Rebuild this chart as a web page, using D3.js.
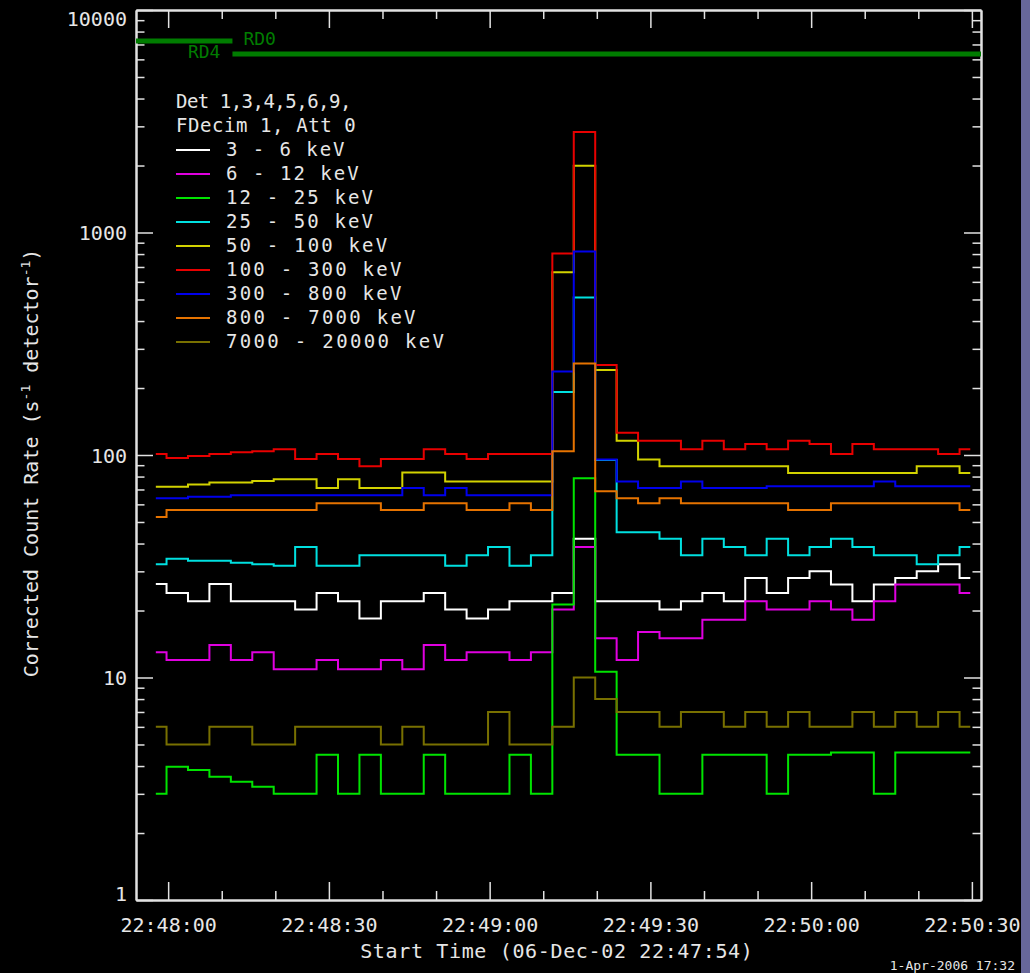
<!DOCTYPE html>
<html>
<head>
<meta charset="utf-8">
<script src="https://cdn.jsdelivr.net/npm/d3@7"></script>
<style>
  html, body { margin: 0; padding: 0; background: #000; overflow: hidden; }
  svg { display: block; }
  text { font-family: "DejaVu Sans Mono", "Liberation Mono", monospace; fill: #e6e6e6; }
</style>
</head>
<body>
<svg id="chart" width="1030" height="973"></svg>
<script>
// Corrected count rates, 4 s accumulations, detectors 1,3,4,5,6,9 (06-Dec-2002)
const startTime = Date.UTC(2002, 11, 6, 22, 47, 54);
const plotSeconds = 157.7;        // span of the time axis
const firstBinOffset = 3.7;       // first bin centre, seconds after start
const binSeconds = 4;

const bandLabels = [
  "3 - 6 keV", "6 - 12 keV", "12 - 25 keV", "25 - 50 keV", "50 - 100 keV",
  "100 - 300 keV", "300 - 800 keV", "800 - 7000 keV", "7000 - 20000 keV"
];
const bandColors = [
  "#ffffff", "#e000e0", "#00e400", "#00e0e0", "#d2d200",
  "#e80000", "#0000ec", "#e67300", "#787000"
];

const rate3to6 = [26.3,24,22,26.3,22,22,22,20.2,24,22,18.4,22,22,24,20.2,18.4,20.2,22,22,24,42,22,22,22,20.2,22,24,22,28,24,28,30,26.2,22,26.2,28,30,32.3,28];
const rate6to12 = [13,12,12,14,12,13,10.9,10.9,12,10.9,10.9,12,10.9,14,12,13,13,12,13,20.2,38.6,15,12,16,15,15,18.2,18.2,22,20.2,20.2,22,20.2,18.2,22,26.2,26.2,26.2,24];
const rate12to25 = [3.0,3.97,3.84,3.58,3.4,3.23,3.0,3.0,4.5,3.0,4.5,3.0,3.0,4.5,3.0,3.0,3.0,4.5,3.0,21.3,78.6,10.6,4.5,4.5,3.0,3.0,4.5,4.5,4.5,3.0,4.5,4.5,4.6,4.6,3.0,4.6,4.6,4.6,4.6];
const rate25to50 = [32.3,34.2,33.5,33.5,32.8,32.3,31.8,38.6,31.8,31.8,35.4,35.4,35.4,35.4,31.8,35.4,38.6,31.8,35.4,192,510,95,45,45,42,35.4,42,38.6,35.4,42,35.4,38.6,42,38.6,35.4,35.4,32.3,35.4,38.6];
const rate50to100 = [72,72,73.7,75.2,75.2,76.4,77.8,77.8,71,77.8,71,71,83.4,83.4,76,76,76,76,76,663,1996,241,116,95.4,89,89,89,89,89,89,83,83,83,83,83,83,89,89,83];
const rate100to300 = [101,97,99,101,103,104,106,96,101,96,89,96,96,106,101,96,101,101,101,804,2832,254,126,116,116,106,116,106,112,106,116,112,101,112,106,106,106,101,106];
const rate300to800 = [64,64,65,65,66,66,66,66,66,66,66,66,71,66,71,66,66,66,66,237,821,95.4,76,71,71,76,71,71,71,72.4,72.4,72.4,72.4,72.4,76,72.4,72.4,72.4,72.4];
const rate800to7000 = [52.6,56.6,56.6,56.6,56.6,56.6,56.6,56.6,60.7,60.7,60.7,56.6,56.6,60.7,60.7,56.6,56.6,60.7,56.6,104,258,68.7,64,60.7,64,60.7,60.7,60.7,60.7,60.7,56.6,56.6,60.7,60.7,60.7,60.7,60.7,60.7,56.6];
const rate7000to20000 = [6,5,5,6,6,5,5,6,6,6,6,5,6,5,5,5,7,5,5,6,10,8,7,7,6,7,7,6,7,6,7,6,6,7,6,7,6,7,6];

const bandRates = [rate3to6, rate6to12, rate12to25, rate25to50, rate50to100,
                   rate100to300, rate300to800, rate800to7000, rate7000to20000];

// Rear decimation states (seconds after start time)
const rdStates = ["RD0", "RD4"];
const rdStart = [0, 18];
const rdEnd = [18, plotSeconds];

const yMajorTicks = [1, 10, 100, 1000, 10000];
const legendHeader = ["Det 1,3,4,5,6,9,", "FDecim 1, Att 0"];
const xTitle = "Start Time (06-Dec-02 22:47:54)";
const stamp = "1-Apr-2006 17:32";

// ---------------------------------------------------------------------------
const W = 1030, H = 973;
const plot = { left: 136, right: 981, top: 10, bottom: 900 };
const axisColor = "#e2e2e2";

// Advance widths of the vector stroke font (units; caps are 21 units tall),
// used to space the label text like the plotting package does.
const strokeAdvance = {
  "0":20,"1":20,"2":20,"3":20,"4":20,"5":20,"6":20,"7":20,"8":20,"9":20,
  " ":16,"-":26,",":10,":":10,"(":14,")":14,
  "A":18,"D":21,"F":18,"S":20,"T":16,"R":21,
  "a":19,"c":18,"e":18,"i":8,"k":17,"m":30,"r":13,"t":12,"V":18
};
const strokeScale = 0.71;
const strokeWidth = s => [...s].reduce((w, c) => w + (strokeAdvance[c] || 18), 0) * strokeScale;

const svg = d3.select("#chart");
svg.append("rect").attr("width", W).attr("height", H).attr("fill", "#000");
// window frame strip along the right edge
svg.append("rect").attr("x", 1021).attr("y", 0).attr("width", 9).attr("height", H).attr("fill", "#67679a");

const sec = s => new Date(startTime + s * 1000);
const x = d3.scaleUtc().domain([sec(0), sec(plotSeconds)]).range([plot.left, plot.right]);
const y = d3.scaleLog().domain([1, 10000]).range([plot.bottom, plot.top]);

const majorX = d3.utcSecond.every(30).range(sec(0), sec(plotSeconds));
const minorX = d3.utcSecond.every(10).range(sec(0), sec(plotSeconds))
  .filter(d => d.getUTCSeconds() % 30 !== 0);
const minorY = [];
for (let dec = 1; dec < 10000; dec *= 10) for (let m = 2; m <= 9; m++) minorY.push(dec * m);

const fmt = d3.utcFormat("%H:%M:%S");

function styleAxis(g) {
  g.selectAll("path.domain").attr("stroke", axisColor).attr("stroke-width", 2);
  g.selectAll(".tick line").attr("stroke", axisColor).attr("stroke-width", 1.5);
  g.selectAll(".tick text").attr("fill", "#e6e6e6")
    .style("font-family", '"DejaVu Sans Mono", monospace').style("font-size", "20px");
}

// bottom axis
const gb = svg.append("g").attr("transform", `translate(0,${plot.bottom})`)
  .call(d3.axisBottom(x).tickValues(majorX).tickSize(-18).tickSizeOuter(0).tickFormat(fmt));
gb.selectAll(".tick text").attr("y", 31.5).attr("dy", 0);
styleAxis(gb);
const gbm = svg.append("g").attr("transform", `translate(0,${plot.bottom})`)
  .call(d3.axisBottom(x).tickValues(minorX).tickSize(-9).tickSizeOuter(0).tickFormat(""));
styleAxis(gbm);

// top axis
const gt = svg.append("g").attr("transform", `translate(0,${plot.top})`)
  .call(d3.axisTop(x).tickValues(majorX).tickSize(-18).tickSizeOuter(0).tickFormat(""));
styleAxis(gt);
const gtm = svg.append("g").attr("transform", `translate(0,${plot.top})`)
  .call(d3.axisTop(x).tickValues(minorX).tickSize(-9).tickSizeOuter(0).tickFormat(""));
styleAxis(gtm);

// left axis
const gl = svg.append("g").attr("transform", `translate(${plot.left},0)`)
  .call(d3.axisLeft(y).tickValues(yMajorTicks).tickSize(-17).tickSizeOuter(0).tickPadding(9)
    .tickFormat(d3.format("d")));
gl.selectAll(".tick text")
  .attr("dy", 0)
  .attr("y", d => {
    const base = Math.min(Math.max(y(d) + 7, plot.top + 15), plot.bottom);
    return base - y(d);
  });
styleAxis(gl);
const glm = svg.append("g").attr("transform", `translate(${plot.left},0)`)
  .call(d3.axisLeft(y).tickValues(minorY).tickSize(-8.5).tickSizeOuter(0).tickFormat(""));
styleAxis(glm);

// right axis
const gr = svg.append("g").attr("transform", `translate(${plot.right},0)`)
  .call(d3.axisRight(y).tickValues(yMajorTicks).tickSize(-17).tickSizeOuter(0).tickFormat(""));
styleAxis(gr);
const grm = svg.append("g").attr("transform", `translate(${plot.right},0)`)
  .call(d3.axisRight(y).tickValues(minorY).tickSize(-8.5).tickSizeOuter(0).tickFormat(""));
styleAxis(grm);

// axis titles
svg.append("text")
  .attr("x", (plot.left + plot.right) / 2 - 2).attr("y", 958)
  .attr("text-anchor", "middle").style("font-size", "20px")
  .attr("textLength", strokeWidth(xTitle)).attr("lengthAdjust", "spacing")
  .text(xTitle);

const yt = svg.append("text")
  .attr("transform", "translate(38,463) rotate(-90)")
  .attr("text-anchor", "middle").style("font-size", "20px");
yt.append("tspan").text("Corrected Count Rate (s");
yt.append("tspan").attr("dy", -8).style("font-size", "13px").text("-1");
yt.append("tspan").attr("dy", 8).text(" detector");
yt.append("tspan").attr("dy", -8).style("font-size", "13px").text("-1");
yt.append("tspan").attr("dy", 8).text(")");

// decimation state bars
const rdColor = "#007c00";
const rdY = [41, 54];
rdStates.forEach((name, i) => {
  const x0 = x(sec(rdStart[i])), x1 = x(sec(rdEnd[i]));
  svg.append("line")
    .attr("x1", x0).attr("x2", x1).attr("y1", rdY[i]).attr("y2", rdY[i])
    .attr("stroke", rdColor).attr("stroke-width", 5);
  const t = svg.append("text").attr("y", rdY[i] + 4).style("font-size", "18px")
    .style("fill", rdColor).text(name);
  if (i === 0) t.attr("x", x1 + 11);
  else t.attr("x", x0 - 12).attr("text-anchor", "end");
});

// count-rate histograms
const line = d3.line()
  .x(d => x(sec(d.t)))
  .y(d => y(d.v))
  .curve(d3.curveStep);

bandRates.forEach((rates, i) => {
  const pts = rates.map((v, k) => ({ t: firstBinOffset + k * binSeconds, v }));
  svg.append("path")
    .datum(pts)
    .attr("fill", "none")
    .attr("stroke", bandColors[i])
    .attr("stroke-width", 2)
    .attr("d", line);
});

// legend
const lgX = 176, lgBase = 108, lgStep = 24;
legendHeader.forEach((s, i) => {
  svg.append("text").attr("x", lgX).attr("y", lgBase + i * lgStep)
    .style("font-size", "19px")
    .attr("textLength", strokeWidth(s)).attr("lengthAdjust", "spacing")
    .text(s);
});
bandLabels.forEach((s, i) => {
  const by = lgBase + (i + 2) * lgStep;
  svg.append("line").attr("x1", lgX).attr("x2", lgX + 34)
    .attr("y1", by - 6).attr("y2", by - 6)
    .attr("stroke", bandColors[i]).attr("stroke-width", 2);
  svg.append("text").attr("x", lgX + 50).attr("y", by)
    .style("font-size", "19px")
    .attr("textLength", strokeWidth(s)).attr("lengthAdjust", "spacing")
    .text(s);
});

// plot date stamp
svg.append("text").attr("x", 1015).attr("y", 970).attr("text-anchor", "end")
  .style("font-size", "13px").text(stamp);
</script>
</body>
</html>
